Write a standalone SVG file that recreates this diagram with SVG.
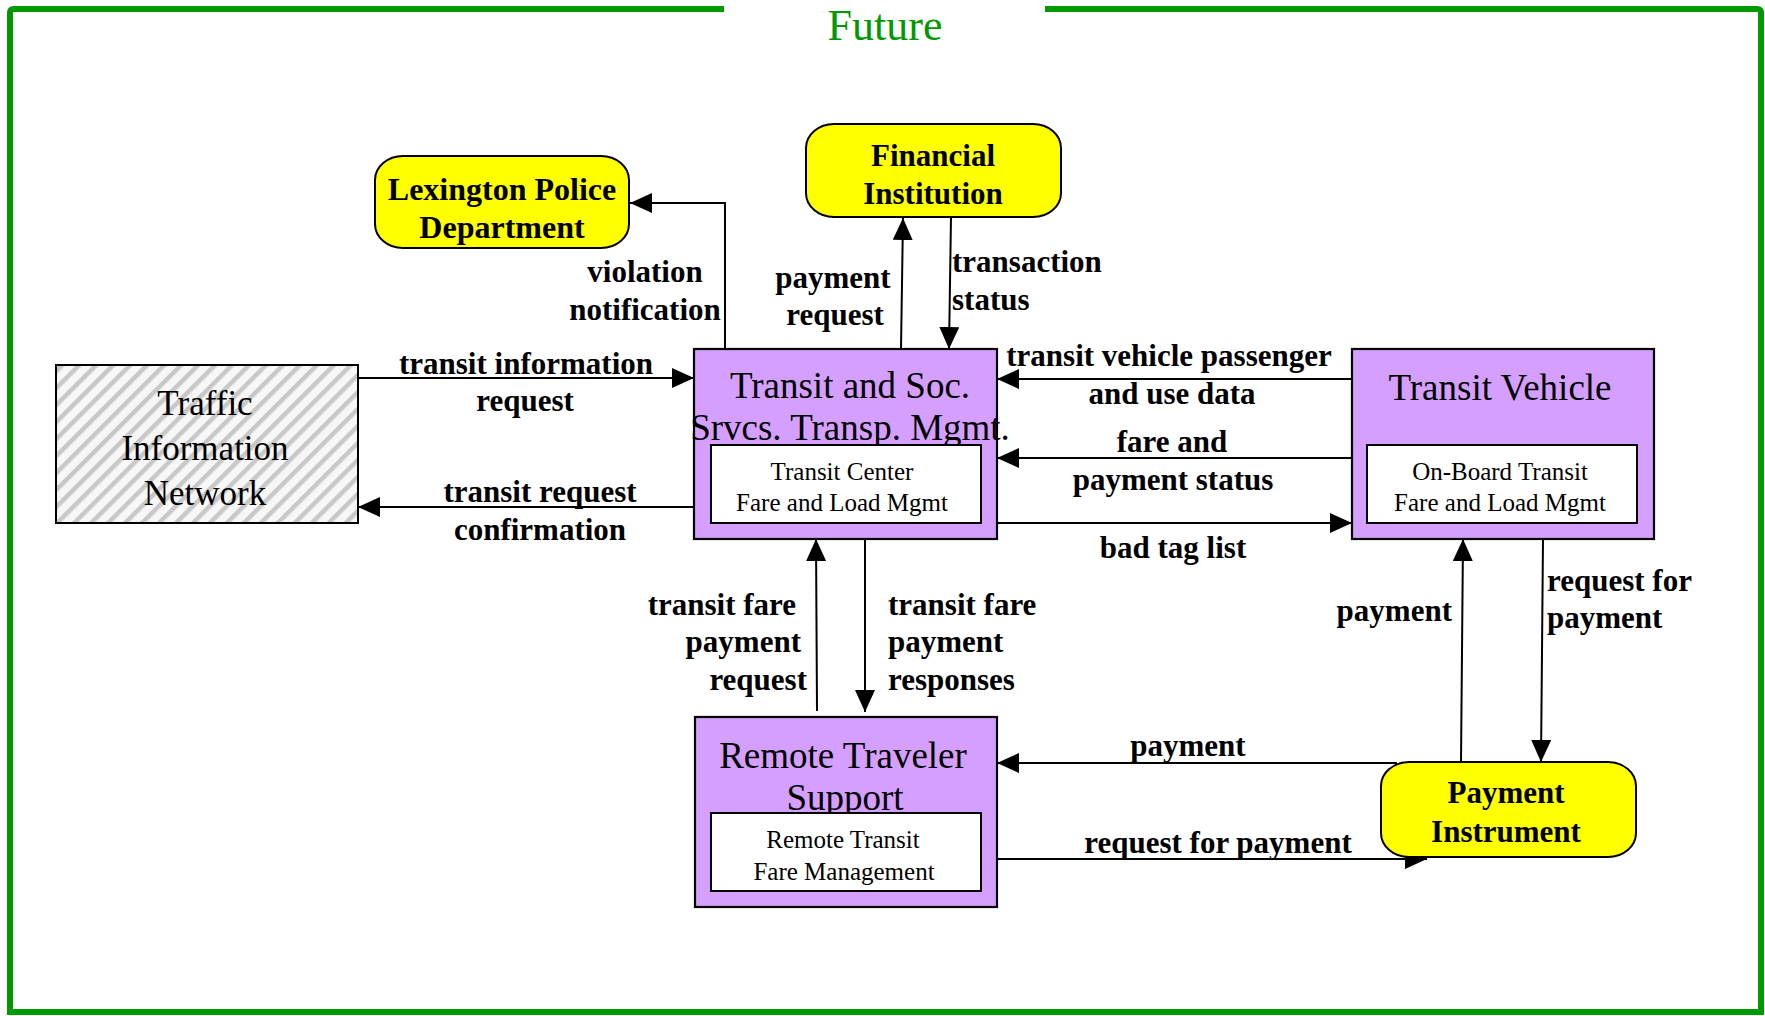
<svg xmlns="http://www.w3.org/2000/svg" width="1765" height="1016" viewBox="0 0 1765 1016">
<defs>
<style>
.frame{fill:none;stroke:#009900;stroke-width:6}
.title{font-family:"Liberation Serif",serif;font-size:44px;fill:#009900;text-anchor:middle}
.proc{fill:#d49fff;stroke:#000;stroke-width:2.2}
.inner{fill:#fff;stroke:#000;stroke-width:2}
.term{fill:#ffff00;stroke:#000;stroke-width:2}
.big{font-family:"Liberation Serif",serif;font-size:37px;fill:#000;text-anchor:middle}
.small{font-family:"Liberation Serif",serif;font-size:25px;fill:#000;text-anchor:middle}
.tin{font-family:"Liberation Serif",serif;font-size:35px;fill:#000;text-anchor:middle}
.nb{font-family:"Liberation Serif",serif;font-size:31px;font-weight:bold;fill:#000;text-anchor:middle}
.lbl{font-family:"Liberation Serif",serif;font-size:31px;font-weight:bold;fill:#000}
.c{text-anchor:middle}.s{text-anchor:start}.e{text-anchor:end}
.conn{fill:none;stroke:#000;stroke-width:2}
</style>
<pattern id="hatch" patternUnits="userSpaceOnUse" width="12" height="12" patternTransform="rotate(45)">
<rect width="12" height="12" fill="#f7f7f7"/>
<rect width="4.5" height="12" fill="#c8c8c8"/>
</pattern>
<marker id="arr" markerUnits="userSpaceOnUse" markerWidth="22" markerHeight="20" refX="22" refY="10" orient="auto">
<path d="M0,0 L22,10 L0,20 z" fill="#000"/>
</marker>
</defs>
<rect width="1765" height="1016" fill="#fff"/>
<g id="frame">
<path class="frame" d="M724,9 H14 Q10,9 10,13 V1012 H1761 V13 Q1761,9 1757,9 H1045"/>
<text class="title" x="885" y="40">Future</text>
</g>
<g id="connectors">
<path class="conn" d="M725,349 V203 H630" marker-end="url(#arr)"/>
<path class="conn" d="M901,349 L903,218" marker-end="url(#arr)"/>
<path class="conn" d="M951,217 L949,349" marker-end="url(#arr)"/>
<path class="conn" d="M358,378 H694" marker-end="url(#arr)"/>
<path class="conn" d="M694,507 H358" marker-end="url(#arr)"/>
<path class="conn" d="M1352,379 H997" marker-end="url(#arr)"/>
<path class="conn" d="M1352,458 H997" marker-end="url(#arr)"/>
<path class="conn" d="M997,523 H1352" marker-end="url(#arr)"/>
<path class="conn" d="M817,711 L816,539" marker-end="url(#arr)"/>
<path class="conn" d="M865,539 V712" marker-end="url(#arr)"/>
<path class="conn" d="M1461,762 L1463,539" marker-end="url(#arr)"/>
<path class="conn" d="M1543,539 L1541,762" marker-end="url(#arr)"/>
<path class="conn" d="M1397,763 H997" marker-end="url(#arr)"/>
<path class="conn" d="M997,859 H1427" marker-end="url(#arr)"/>
<text class="lbl c" x="645" y="282">violation</text>
<text class="lbl c" x="645" y="320">notification</text>
<text class="lbl c" x="833" y="288">payment</text>
<text class="lbl c" x="835" y="325">request</text>
<text class="lbl s" x="952" y="272">transaction</text>
<text class="lbl s" x="952" y="310">status</text>
<text class="lbl c" x="526" y="374">transit information</text>
<text class="lbl c" x="525" y="411">request</text>
<text class="lbl c" x="540" y="502">transit request</text>
<text class="lbl c" x="540" y="540">confirmation</text>
<text class="lbl c" x="1169" y="366">transit vehicle passenger</text>
<text class="lbl c" x="1172" y="404">and use data</text>
<text class="lbl c" x="1172" y="452">fare and</text>
<text class="lbl c" x="1173" y="490">payment status</text>
<text class="lbl c" x="1173" y="558">bad tag list</text>
<text class="lbl e" x="796" y="615">transit fare</text>
<text class="lbl e" x="801" y="652">payment</text>
<text class="lbl e" x="807" y="690">request</text>
<text class="lbl s" x="888" y="615">transit fare</text>
<text class="lbl s" x="888" y="652">payment</text>
<text class="lbl s" x="888" y="690">responses</text>
<text class="lbl e" x="1452" y="621">payment</text>
<text class="lbl s" x="1547" y="591">request for</text>
<text class="lbl s" x="1547" y="628">payment</text>
<text class="lbl c" x="1188" y="756">payment</text>
<text class="lbl c" x="1218" y="853">request for payment</text>
</g>
<g id="traffic-information-network">
<rect x="56" y="365" width="302" height="158" fill="url(#hatch)" stroke="#000" stroke-width="2"/>
<text class="tin" x="205" y="415">Traffic</text>
<text class="tin" x="205" y="460">Information</text>
<text class="tin" x="205" y="505">Network</text>
</g>
<g id="lexington-police-department">
<rect class="term" x="375" y="156" width="254" height="92" rx="28" ry="24"/>
<text class="nb" x="502" y="200" style="font-size:32px">Lexington Police</text>
<text class="nb" x="502" y="238" style="font-size:32px">Department</text>
</g>
<g id="financial-institution">
<rect class="term" x="806" y="124" width="255" height="93" rx="28" ry="24"/>
<text class="nb" x="933" y="166">Financial</text>
<text class="nb" x="933" y="204">Institution</text>
</g>
<g id="transit-soc-srvcs">
<rect class="proc" x="694" y="349" width="303" height="190"/>
<text class="big" x="850" y="398">Transit and Soc.</text>
<text class="big" x="850" y="440">Srvcs. Transp. Mgmt.</text>
<rect class="inner" x="711" y="445" width="270" height="78"/>
<text class="small" x="842" y="480">Transit Center</text>
<text class="small" x="842" y="511">Fare and Load Mgmt</text>
</g>
<g id="transit-vehicle">
<rect class="proc" x="1352" y="349" width="302" height="190"/>
<text class="big" x="1500" y="400">Transit Vehicle</text>
<rect class="inner" x="1367" y="445" width="270" height="78"/>
<text class="small" x="1500" y="480">On-Board Transit</text>
<text class="small" x="1500" y="511">Fare and Load Mgmt</text>
</g>
<g id="remote-traveler-support">
<rect class="proc" x="695" y="717" width="302" height="190"/>
<text class="big" x="843" y="768">Remote Traveler</text>
<text class="big" x="845" y="810">Support</text>
<rect class="inner" x="711" y="813" width="270" height="78"/>
<text class="small" x="843" y="848">Remote Transit</text>
<text class="small" x="844" y="880">Fare Management</text>
</g>
<g id="payment-instrument">
<rect class="term" x="1381" y="762" width="255" height="95" rx="28" ry="24"/>
<text class="nb" x="1506" y="803">Payment</text>
<text class="nb" x="1506" y="842">Instrument</text>
</g>
</svg>
